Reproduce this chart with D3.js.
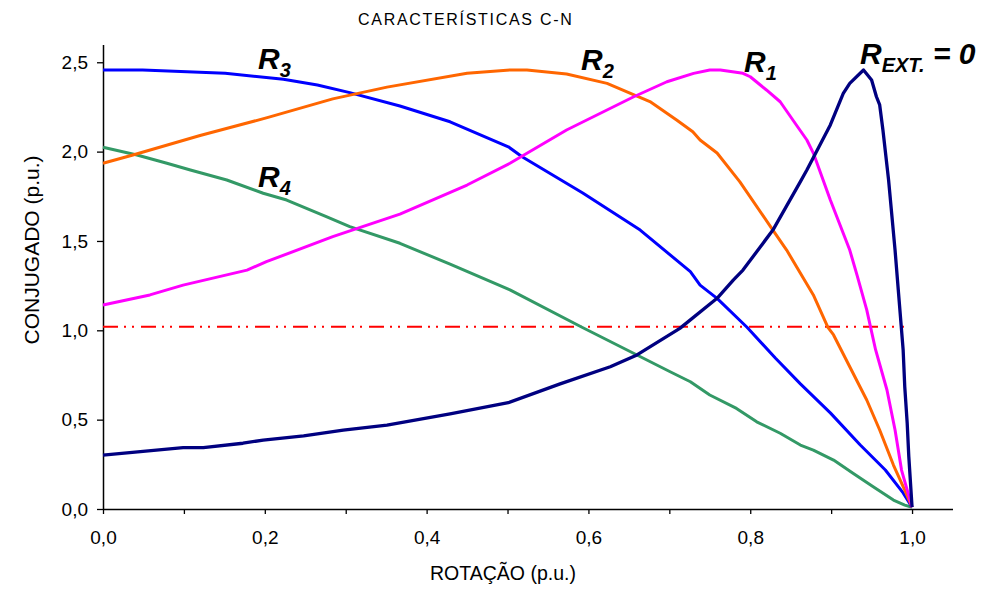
<!DOCTYPE html>
<html>
<head>
<meta charset="utf-8">
<script src="https://cdn.jsdelivr.net/npm/d3@7"></script>
<style>
body { margin: 0; background: #fff; }
svg { display: block; font-family: "Liberation Sans", Arial, sans-serif; }
</style>
</head>
<body>
<div id="chart"></div>
<script>
// curves (rotation p.u. -> torque p.u.)
var rotR3 = [0, 0.049, 0.151, 0.223, 0.265, 0.305, 0.367, 0.429, 0.501, 0.518, 0.593, 0.664, 0.726, 0.738, 0.759, 0.796, 0.831, 0.862, 0.899, 0.936, 0.967, 0.989, 1.0];
var conjR3 = [2.457, 2.457, 2.438, 2.405, 2.373, 2.33, 2.255, 2.167, 2.027, 1.971, 1.768, 1.561, 1.328, 1.253, 1.179, 1.017, 0.845, 0.70, 0.538, 0.358, 0.218, 0.09, 0.01];

var rotR2 = [0, 0.037, 0.12, 0.203, 0.284, 0.351, 0.45, 0.503, 0.524, 0.573, 0.623, 0.66, 0.676, 0.709, 0.729, 0.738, 0.759, 0.787, 0.828, 0.845, 0.878, 0.896, 0.903, 0.923, 0.944, 0.96, 0.977, 0.991, 1.0];
var conjR2 = [1.935, 1.981, 2.09, 2.19, 2.295, 2.361, 2.438, 2.457, 2.457, 2.434, 2.382, 2.311, 2.28, 2.177, 2.111, 2.065, 1.992, 1.832, 1.561, 1.449, 1.198, 1.017, 0.974, 0.796, 0.61, 0.442, 0.246, 0.106, 0.01];

var rotR1 = [0, 0.058, 0.099, 0.178, 0.202, 0.284, 0.367, 0.45, 0.503, 0.573, 0.656, 0.697, 0.73, 0.75, 0.763, 0.791, 0.8, 0.82, 0.837, 0.857, 0.87, 0.878, 0.899, 0.923, 0.932, 0.944, 0.955, 0.969, 0.979, 0.987, 1.0];
var conjR1 = [1.142, 1.198, 1.253, 1.337, 1.384, 1.524, 1.65, 1.813, 1.935, 2.121, 2.307, 2.391, 2.438, 2.457, 2.457, 2.438, 2.419, 2.345, 2.279, 2.149, 2.065, 1.992, 1.729, 1.449, 1.309, 1.114, 0.89, 0.666, 0.442, 0.218, 0.01];

var rotRext = [0, 0.099, 0.124, 0.173, 0.198, 0.248, 0.297, 0.351, 0.429, 0.501, 0.565, 0.627, 0.66, 0.713, 0.759, 0.779, 0.791, 0.828, 0.862, 0.87, 0.899, 0.915, 0.923, 0.94, 0.95, 0.956, 0.96, 0.964, 0.971, 0.979, 0.983, 0.989, 0.991, 0.994, 0.996, 1.0];
var conjRext = [0.302, 0.343, 0.343, 0.368, 0.386, 0.409, 0.442, 0.47, 0.532, 0.595, 0.70, 0.796, 0.862, 1.011, 1.179, 1.281, 1.337, 1.561, 1.832, 1.897, 2.149, 2.326, 2.382, 2.457, 2.401, 2.307, 2.261, 2.121, 1.841, 1.449, 1.225, 0.89, 0.684, 0.48, 0.293, 0.01];

var rotR4 = [0, 0.042, 0.079, 0.108, 0.153, 0.198, 0.227, 0.276, 0.305, 0.367, 0.429, 0.503, 0.592, 0.66, 0.701, 0.726, 0.75, 0.783, 0.808, 0.837, 0.862, 0.878, 0.903, 0.927, 0.952, 0.977, 0.991, 1.0];
var conjR4 = [2.024, 1.981, 1.935, 1.897, 1.841, 1.767, 1.729, 1.636, 1.58, 1.487, 1.37, 1.226, 1.017, 0.862, 0.768, 0.712, 0.638, 0.563, 0.488, 0.424, 0.358, 0.33, 0.274, 0.2, 0.125, 0.05, 0.022, 0.01];

// load torque line
var rotCarga = [0, 0.99];
var conjCarga = [1.02, 1.02];

var xTicks = [0, 0.1, 0.2, 0.3, 0.4, 0.5, 0.6, 0.7, 0.8, 0.9, 1.0];
var yTicks = [0, 0.5, 1.0, 1.5, 2.0, 2.5];

var width = 998;
var height = 589;

var svg = d3.select("#chart").append("svg")
    .attr("width", width)
    .attr("height", height);

var x = d3.scaleLinear().domain([0, 1.05]).range([103, 952.5]);
var y = d3.scaleLinear().domain([0, 2.6]).range([509, 44.4]);

function comma(d) {
    return d3.format(".1f")(d).replace(".", ",");
}

// axes
var xAxis = svg.append("g")
    .attr("transform", "translate(0," + y(0) + ")")
    .call(d3.axisBottom(x).tickValues(xTicks).tickSizeInner(5).tickSizeOuter(0).tickPadding(17)
        .tickFormat(d => Math.round(d * 10) % 2 === 0 ? comma(d) : ""));

var yAxis = svg.append("g")
    .attr("transform", "translate(" + x(0) + ",0)")
    .call(d3.axisLeft(y).tickValues(yTicks).tickSizeInner(6).tickSizeOuter(0).tickPadding(9)
        .tickFormat(comma));

[xAxis, yAxis].forEach(function (g) {
    g.select(".domain").attr("stroke", "#000").attr("stroke-width", 1.5);
    g.selectAll(".tick line").attr("stroke", "#000").attr("stroke-width", 1.3);
    g.selectAll("text").attr("font-size", "19px").attr("font-family", "'Liberation Sans', Arial, sans-serif").attr("fill", "#000");
});

var line = d3.line().x(d => x(d[0])).y(d => y(d[1]));

function pairs(xs, ys) {
    return xs.map((v, i) => [v, ys[i]]);
}

// dash-dot-dot load line
svg.append("path")
    .attr("d", line(pairs(rotCarga, conjCarga)))
    .attr("fill", "none").attr("stroke", "#FF0000").attr("stroke-width", 2.2)
    .attr("stroke-dasharray", "15,6,2,6,2,7");

var series = [
    { xs: rotR4, ys: conjR4, color: "#339966", w: 3 },
    { xs: rotR3, ys: conjR3, color: "#0000FF", w: 3 },
    { xs: rotR2, ys: conjR2, color: "#FF6600", w: 3 },
    { xs: rotR1, ys: conjR1, color: "#FF00FF", w: 3 },
    { xs: rotRext, ys: conjRext, color: "#000080", w: 3.3 }
];

svg.selectAll("path.curve")
    .data(series).enter().append("path")
    .attr("class", "curve")
    .attr("d", d => line(pairs(d.xs, d.ys)))
    .attr("fill", "none")
    .attr("stroke", d => d.color)
    .attr("stroke-width", d => d.w)
    .attr("stroke-linejoin", "round");

// curve labels
var labels = [
    { px: 258, py: 69, sub: "3", rest: "" },
    { px: 581, py: 70, sub: "2", rest: "" },
    { px: 744, py: 72, sub: "1", rest: "" },
    { px: 258, py: 187, sub: "4", rest: "" },
    { px: 860, py: 64, sub: "EXT.", rest: " = 0" }
];

labels.forEach(function (l) {
    var t = svg.append("text")
        .attr("x", l.px).attr("y", l.py)
        .attr("font-size", "30px").attr("font-weight", "bold").attr("font-style", "italic")
        .attr("fill", "#000");
    t.append("tspan").text("R");
    t.append("tspan").attr("font-size", "20px").attr("dy", 8).text(l.sub);
    if (l.rest) {
        t.append("tspan").attr("dy", -8).text(l.rest);
    }
});

// titles
svg.append("text")
    .attr("x", 358).attr("y", 25)
    .attr("font-size", "16px").attr("letter-spacing", "1.7px")
    .text("CARACTERÍSTICAS  C-N");

svg.append("text")
    .attr("x", 503).attr("y", 580)
    .attr("text-anchor", "middle").attr("font-size", "19.5px")
    .text("ROTAÇÃO (p.u.)");

svg.append("text")
    .attr("transform", "translate(39,250) rotate(-90)")
    .attr("text-anchor", "middle").attr("font-size", "21px")
    .text("CONJUGADO (p.u.)");
</script>
</body>
</html>
